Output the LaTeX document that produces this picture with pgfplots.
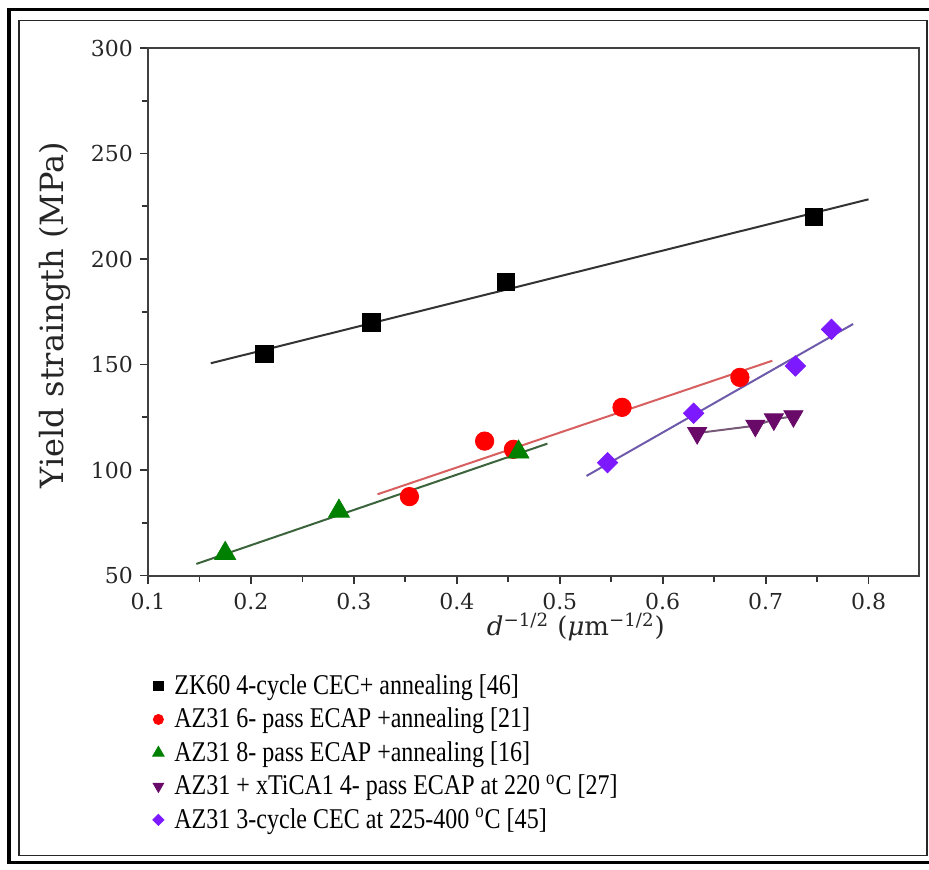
\documentclass[border=0pt]{standalone}
\usepackage{pgfplots}
\pgfplotsset{compat=1.18}
\usepackage{fontspec}
\setmainfont{DejaVu Serif}
\newfontfamily\legfont[FakeStretch=0.84]{Liberation Serif}

\definecolor{cgreen}{RGB}{0,128,0}
\definecolor{cplum}{RGB}{105,10,105}
\definecolor{cviolet}{RGB}{125,25,255}
\definecolor{lred}{RGB}{215,95,95}
\definecolor{lgreen}{RGB}{60,100,60}
\definecolor{lviolet}{RGB}{110,90,170}
\definecolor{lplum}{RGB}{120,90,120}

\begin{document}
\begin{tikzpicture}[x=1pt,y=1pt]
\useasboundingbox (-74,-146.75) rectangle (390.5,287.75);
% frame round the figure
\draw[line width=1.6pt] (-69.5,-143.5) rectangle (395,283);
\draw[line width=0.8pt, black!85] (-64.5,-140) rectangle (389.5,277.5);
\begin{axis}[
  at={(0,0)}, anchor=south west,
  scale only axis, width=385.5pt, height=263.75pt,
  xmin=0.1, xmax=0.849, ymin=50, ymax=300,
  xtick={0.1,0.2,...,0.8}, ytick={50,100,...,300},
  minor x tick num=1, minor y tick num=1,
  tick align=outside, tick pos=left,
  major tick length=4pt, minor tick length=3pt,
  tick style={black!80, line width=0.9pt},
  axis line style={line width=1pt, black!75},
  /pgf/number format/assume math mode=true,
  xticklabel style={/pgf/number format/fixed, /pgf/number format/precision=1,
    /pgf/number format/fixed zerofill, yshift=-1.5pt},
  ticklabel style={font=\fontsize{11}{13}\selectfont, text=black!85},
  xlabel={\textit{d}\textsuperscript{−1/2} (\textit{μ}m\textsuperscript{−1/2})},
  xlabel style={at={(axis description cs:0.555,-0.098)}, anchor=center,
    font=\fontsize{13}{15}\selectfont, text=black!85},
  ylabel={Yield straingth (MPa)},
  ylabel style={at={(axis description cs:-0.1206,0.494)}, anchor=center,
    font=\fontsize{16}{18}\selectfont, text=black!85},
  legend style={at={(axis description cs:0,-0.1795)}, anchor=north west,
    draw=none, fill=none, inner xsep=0pt, inner ysep=0pt, row sep=1.3pt,
    font=\legfont\fontsize{14.3}{16.5}\selectfont},
  legend cell align=left,
  legend image code/.code={
    \path[draw=none] (0pt,0pt) -- (11pt,0pt);
    \draw[#1, every mark/.append style={scale=0.55}] plot coordinates {(5pt,0pt)};
  },
]
% fitted lines
\addplot[forget plot, line width=1pt, black!80] coordinates {(0.161,150.6) (0.800,228.3)};
\addplot[forget plot, line width=1pt, lred] coordinates {(0.323,88.5) (0.7065,151.8)};
\addplot[forget plot, line width=1pt, lgreen] coordinates {(0.147,55.5) (0.488,112.5)};
\addplot[forget plot, line width=1pt, lviolet] coordinates {(0.526,97.2) (0.785,169.2)};
\addplot[forget plot, line width=1pt, lplum] coordinates {(0.6335,117.5) (0.690,121) (0.708,124) (0.727,125.5)};

% measured points
\addplot[only marks, mark=square*, mark size=4.3pt, black]
  coordinates {(0.213,155) (0.317,170) (0.448,189) (0.747,220)};
\addlegendentry{ZK60 4-cycle CEC+ annealing [46]}
\addplot[only marks, mark=*, mark size=4.6pt, red]
  coordinates {(0.354,87.4) (0.427,113.7) (0.455,109.8) (0.5605,129.7) (0.675,143.9)};
\addlegendentry{AZ31 6- pass ECAP +annealing [21]}
\addplot[only marks, mark=triangle*, mark size=6pt, cgreen]
  coordinates {(0.175,60.5) (0.2855,80.5) (0.46,108.5)};
\addlegendentry{AZ31 8- pass ECAP +annealing [16]}
\addplot[only marks, mark=triangle*, mark size=5.5pt, cplum, mark options={rotate=180}]
  coordinates {(0.6335,117.5) (0.690,121) (0.708,124) (0.727,125.5)};
\addlegendentry{AZ31 + xTiCA1 4- pass ECAP at 220 \textsuperscript{o}C [27]}
\addplot[only marks, mark=square*, mark size=3.6pt, cviolet, mark options={rotate=45}]
  coordinates {(0.5465,103.5) (0.630,126.9) (0.729,149.3) (0.764,166.7)};
\addlegendentry{AZ31 3-cycle CEC at 225-400 \textsuperscript{o}C [45]}
\end{axis}
\end{tikzpicture}
\end{document}
